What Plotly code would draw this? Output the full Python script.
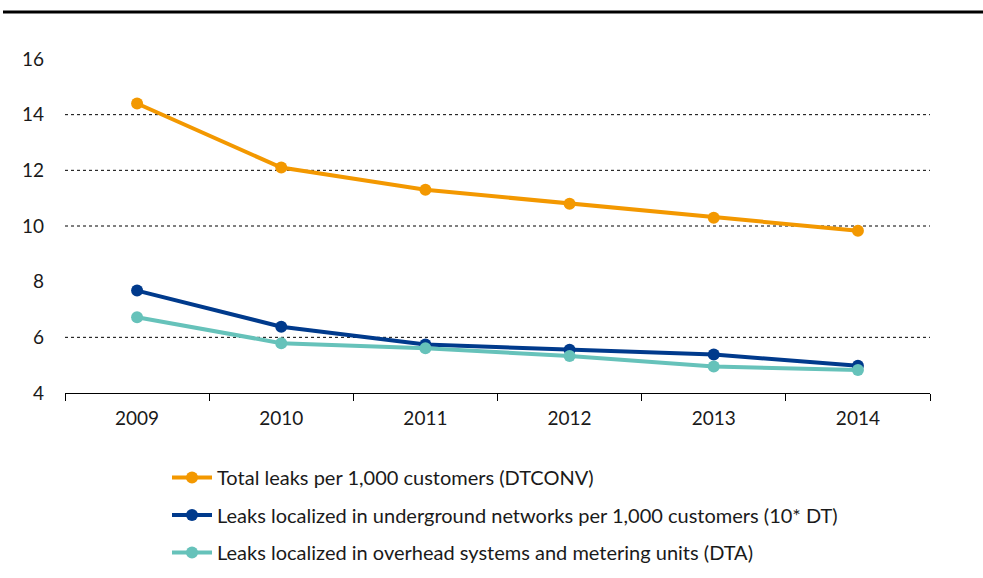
import plotly.graph_objects as go

years = ["2009", "2010", "2011", "2012", "2013", "2014"]
total_leaks = [14.4, 12.1, 11.3, 10.8, 10.3, 9.83]
underground = [7.68, 6.38, 5.74, 5.55, 5.38, 4.98]
overhead = [6.72, 5.79, 5.61, 5.33, 4.95, 4.83]

names = [
    "Total leaks per 1,000 customers (DTCONV)",
    "Leaks localized in underground networks per 1,000 customers (10* DT)",
    "Leaks localized in overhead systems and metering units (DTA)",
]
colors = ["#F39800", "#003A8C", "#66C2BA"]
grid_values = [6, 10, 12, 14]
y_ticks = [4, 6, 8, 10, 12, 14, 16]

FONT = "Lato, 'Open Sans', 'Liberation Sans', sans-serif"

fig = go.Figure()
for i, (vals, nm, col) in enumerate(zip([total_leaks, underground, overhead], names, colors)):
    fig.add_trace(go.Scatter(
        x=years, y=vals, name=nm, mode="lines+markers",
        line=dict(color=col, width=4),
        marker=dict(color=col, size=12),
        legendgroup=f"g{i}",
    ))

for g in grid_values:
    fig.add_shape(type="line", xref="paper", yref="y", x0=0, x1=1, y0=g, y1=g,
                  line=dict(color="black", width=1, dash="dot"), layer="below")

# top rule
fig.add_shape(type="line", xref="paper", yref="paper",
              x0=-62/865, x1=918/865, y0=(393-12)/334, y1=(393-12)/334,
              line=dict(color="black", width=3))

fig.update_layout(
    width=983, height=578,
    margin=dict(l=65, r=53, t=59, b=185, autoexpand=False),
    paper_bgcolor="white", plot_bgcolor="white",
    font=dict(family=FONT, size=16, color="#1a1a1a"),
    showlegend=True,
    legend=dict(
        x=(167-65)/865, y=(393-458)/334, xanchor="left", yanchor="top",
        orientation="v", tracegroupgap=8.5,
        font=dict(family=FONT, size=20, color="#1a1a1a"),
        bgcolor="rgba(0,0,0,0)", itemwidth=40,
    ),
    xaxis=dict(
        type="category", range=[-0.5, 5.5], showgrid=False, showline=True,
        linecolor="black", linewidth=1,
        ticks="outside", tickson="boundaries", ticklen=7, tickcolor="black",
        ticklabelstandoff=8, zeroline=False,
        tickfont=dict(family=FONT, size=19, color="#1a1a1a"),
    ),
    yaxis=dict(
        range=[4, 16], tickvals=y_ticks, showgrid=False, showline=False, zeroline=False,
        ticks="", ticklabelstandoff=20,
        tickfont=dict(family=FONT, size=19, color="#1a1a1a"),
    ),
)

fig.write_html("out.html")
